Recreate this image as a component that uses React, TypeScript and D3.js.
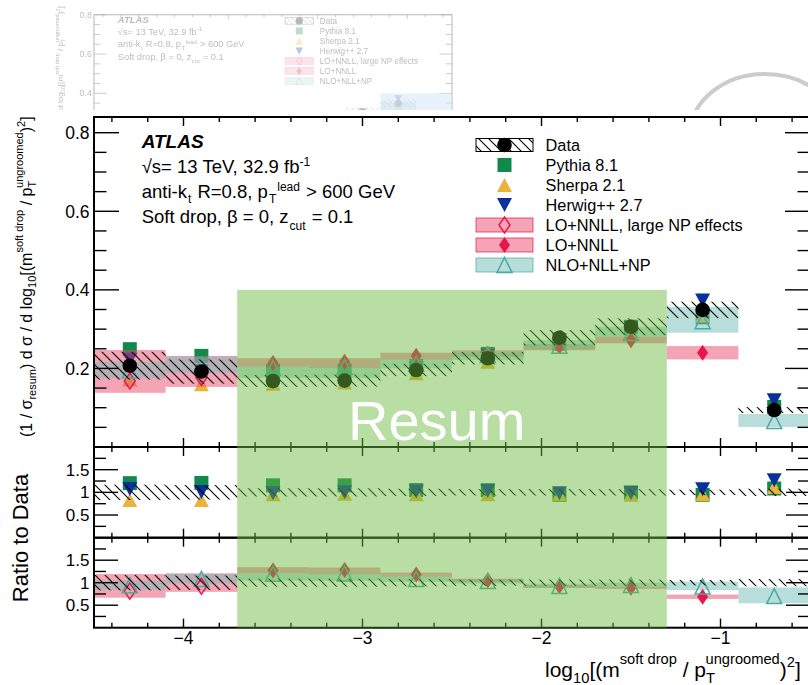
import React from 'react';
import * as d3 from 'd3';

// Bins in log10[(m^soft drop / pT^ungroomed)^2]
const binCenters = [-4.3, -3.9, -3.5, -3.1, -2.7, -2.3, -1.9, -1.5, -1.1, -0.7];
const binHalfWidth = 0.2;

// Unfolded data and its relative uncertainty
const dataValues = [0.207, 0.192, 0.168, 0.169, 0.196, 0.226, 0.278, 0.306, 0.349, 0.094];
const dataRelUnc = [0.17, 0.16, 0.09, 0.09, 0.08, 0.07, 0.07, 0.07, 0.06, 0.08];

// MC generators
const pythiaValues = [0.249, 0.232, 0.194, 0.195, 0.206, 0.237, 0.263, 0.306, 0.330, 0.102];
const sherpaValues = [0.172, 0.160, 0.161, 0.164, 0.188, 0.217, 0.267, 0.290, 0.335, 0.105];
const herwigValues = [0.222, 0.193, 0.165, 0.169, 0.200, 0.233, 0.272, 0.302, 0.373, 0.119];

// LO+NNLL with large NP effects
const loLargeNp = [0.168, 0.177, null, null, null, null, null, null, null, null];
const loLargeNpLow = [0.138, 0.153, null, null, null, null, null, null, null, null];
const loLargeNpHigh = [0.247, 0.232, null, null, null, null, null, null, null, null];

// LO+NNLL
const loNnll = [null, null, 0.214, 0.217, 0.232, 0.238, 0.256, 0.272, 0.240, null];
const loNnllLow = [null, null, 0.204, 0.201, 0.222, 0.230, 0.246, 0.264, 0.223, null];
const loNnllHigh = [null, null, 0.226, 0.226, 0.240, 0.246, 0.262, 0.281, 0.257, null];

// NLO+NLL+NP
const nloNll = [0.195, 0.208, 0.201, 0.204, 0.212, 0.234, 0.258, 0.290, 0.320, 0.066];
const nloNllLow = [0.175, 0.189, 0.176, 0.176, 0.200, 0.222, 0.250, 0.281, 0.291, 0.051];
const nloNllHigh = [0.217, 0.230, 0.204, 0.203, 0.222, 0.240, 0.272, 0.306, 0.357, 0.084];

const xMajorTicks = [-4, -3, -2, -1];
const mainYLabels = [0.2, 0.4, 0.6, 0.8];
const ratioYLabels = [0.5, 1, 1.5];

const legendLabels = [
  'Data',
  'Pythia 8.1',
  'Sherpa 2.1',
  'Herwig++ 2.7',
  'LO+NNLL, large NP effects',
  'LO+NNLL',
  'NLO+NLL+NP',
];

const resumRange = [-3.7, -1.3];
const resumTop = 0.4;
const altRange = [-1.3, -0.5];

const FONT = "'Liberation Sans', Arial, Helvetica, sans-serif";
const C = {
  pythia: '#10894b',
  sherpa: '#e8b43a',
  herwig: '#0a309e',
  loFill: 'rgba(233,73,107,0.5)',
  loLine: '#e5184e',
  nloFill: 'rgba(113,189,183,0.5)',
  nloLine: '#4aab9f',
  resum: 'rgba(106,187,63,0.48)',
  alt: 'rgba(91,163,233,0.5)',
};

const X_LEFT = 94;
const X_RIGHT = 810;
const MAIN = { top: 117, bottom: 447 };
const R1 = { top: 447, bottom: 537.7 };
const R2 = { top: 537.7, bottom: 627.7 };

const sq = (s: number) => `M${-s / 2},${-s / 2}h${s}v${s}h${-s}Z`;
const triUp = (w: number, h: number) => `M0,${-h / 2}L${w / 2},${h / 2}L${-w / 2},${h / 2}Z`;
const triDown = (w: number, h: number) => `M0,${h / 2}L${w / 2},${-h / 2}L${-w / 2},${-h / 2}Z`;
const diamond = (w: number, h: number) => `M0,${-h / 2}L${w / 2},0L0,${h / 2}L${-w / 2},0Z`;

type Shape = 'pythia' | 'sherpa' | 'herwig' | 'openDiamond' | 'diamond' | 'openTri' | 'data';

function Marker({ kind, cx, cy }: { kind: Shape; cx: number; cy: number }) {
  const t = `translate(${cx},${cy})`;
  switch (kind) {
    case 'pythia':
      return <path transform={t} d={sq(14)} fill={C.pythia} />;
    case 'sherpa':
      return <path transform={t} d={triUp(15, 14)} fill={C.sherpa} />;
    case 'herwig':
      return <path transform={t} d={triDown(15, 14)} fill={C.herwig} />;
    case 'openDiamond':
      return <path transform={t} d={diamond(11, 16)} fill="none" stroke={C.loLine} strokeWidth={1.5} />;
    case 'diamond':
      return <path transform={t} d={diamond(11, 16)} fill={C.loLine} />;
    case 'openTri':
      return <path transform={t} d={triUp(15, 15)} fill="none" stroke={C.nloLine} strokeWidth={1.5} />;
    case 'data':
      return <circle cx={cx} cy={cy} r={7.3} fill="#000" />;
  }
  return null;
}

function Axes({ top, bottom, y, minor, major, majorLen }: any) {
  const xs = d3.scaleLinear().domain([-4.5, -0.5]).range([X_LEFT, X_RIGHT]);
  const xt = d3.range(-44, -4, 2).map((v) => v / 10);
  const lines: any[] = [];
  xt.forEach((t, i) => {
    const isMajor = Math.abs(t - Math.round(t)) < 1e-6;
    const len = isMajor ? 9 : 5;
    const px = xs(t);
    lines.push(<line key={'b' + i} x1={px} x2={px} y1={bottom} y2={bottom - len} />);
    lines.push(<line key={'t' + i} x1={px} x2={px} y1={top} y2={top + len} />);
  });
  minor.forEach((v: number, i: number) => {
    const py = y(v);
    if (py < top - 0.5) return;
    const isMajor = major.some((m: number) => Math.abs(m - v) < 1e-6);
    const len = isMajor ? majorLen : majorLen / 2;
    lines.push(<line key={'l' + i} x1={X_LEFT} x2={X_LEFT + len} y1={py} y2={py} />);
    lines.push(<line key={'r' + i} x1={X_RIGHT} x2={X_RIGHT - len} y1={py} y2={py} />);
  });
  return (
    <g stroke="#000">
      <g strokeWidth={1.4}>{lines}</g>
      <rect x={X_LEFT} y={top} width={X_RIGHT - X_LEFT} height={bottom - top} fill="none" strokeWidth={2} />
    </g>
  );
}

function Figure({ variant }: { variant: 'main' | 'ghost' }) {
  const isMain = variant === 'main';
  const x = d3.scaleLinear().domain([-4.5, -0.5]).range([X_LEFT, X_RIGHT]);
  const yMain = d3.scaleLinear().domain([0, 0.84]).range([MAIN.bottom, MAIN.top]);
  const yR1 = d3.scaleLinear().domain([0, 2]).range([R1.bottom, R1.top]);
  const yR2 = d3.scaleLinear().domain([0, 2]).range([R2.bottom, R2.top]);
  // the small preview copy frames its top panel at 0.8
  const mainTop = isMain ? MAIN.top : yMain(0.8);

  const bins = binCenters.map((c) => ({ x0: x(c - binHalfWidth), x1: x(c + binHalfWidth), cx: x(c) }));

  const band = (ys: any, lo: number, hi: number, i: number, fill: string, key: string) => (
    <rect key={key + i} x={bins[i].x0} width={bins[i].x1 - bins[i].x0} y={ys(hi)} height={ys(lo) - ys(hi)} fill={fill} />
  );

  const theory = [
    { c: loLargeNp, lo: loLargeNpLow, hi: loLargeNpHigh, fill: C.loFill, m: 'openDiamond' as Shape },
    { c: loNnll, lo: loNnllLow, hi: loNnllHigh, fill: C.loFill, m: 'diamond' as Shape },
    { c: nloNll, lo: nloNllLow, hi: nloNllHigh, fill: C.nloFill, m: 'openTri' as Shape },
  ];
  const mcs = [
    { v: pythiaValues, m: 'pythia' as Shape },
    { v: sherpaValues, m: 'sherpa' as Shape },
    { v: herwigValues, m: 'herwig' as Shape },
  ];

  const mainMinor = d3.range(1, 17).map((k) => k * 0.05);
  const ratioMinor = d3.range(1, 8).map((k) => k * 0.25);

  const region = isMain ? resumRange : altRange;
  const regionFill = isMain ? C.resum : C.alt;
  const regionBottom = isMain ? R2.bottom : MAIN.bottom;

  const small = 12;
  return (
    <g fontFamily={FONT}>
      {/* ---------- main panel ---------- */}
      <g>
        {mcs.map((s) =>
          s.v.map((v, i) => <Marker key={s.m + i} kind={s.m} cx={bins[i].cx} cy={yMain(v)} />)
        )}
        {theory.map((t, k) =>
          t.c.map((v, i) => (v == null ? null : band(yMain, t.lo[i] as number, t.hi[i] as number, i, t.fill, 'mb' + k)))
        )}
        {theory.map((t) =>
          t.c.map((v, i) => (v == null ? null : <Marker key={t.m + 'm' + i} kind={t.m} cx={bins[i].cx} cy={yMain(v)} />))
        )}
        {dataValues.map((v, i) => band(yMain, v * (1 - dataRelUnc[i]), v * (1 + dataRelUnc[i]), i, 'url(#hatch)', 'dh'))}
        {dataValues.map((v, i) => <Marker key={'d' + i} kind="data" cx={bins[i].cx} cy={yMain(v)} />)}
      </g>

      {isMain && (
        <g>
          {/* ---------- ratio panel: MC / data ---------- */}
          {mcs.map((s) =>
            s.v.map((v, i) => <Marker key={s.m + 'r' + i} kind={s.m} cx={bins[i].cx} cy={yR1(v / dataValues[i])} />)
          )}
          {dataValues.map((v, i) => band(yR1, 1 - dataRelUnc[i], 1 + dataRelUnc[i], i, 'url(#hatch)', 'h1'))}

          {/* ---------- ratio panel: theory / data ---------- */}
          {theory.map((t, k) =>
            t.c.map((v, i) =>
              v == null
                ? null
                : band(yR2, (t.lo[i] as number) / dataValues[i], (t.hi[i] as number) / dataValues[i], i, t.fill, 'rb' + k)
            )
          )}
          {theory.map((t) =>
            t.c.map((v, i) =>
              v == null ? null : <Marker key={t.m + 'r2' + i} kind={t.m} cx={bins[i].cx} cy={yR2((v as number) / dataValues[i])} />
            )
          )}
          {dataValues.map((v, i) => band(yR2, 1 - dataRelUnc[i], 1 + dataRelUnc[i], i, 'url(#hatch)', 'h2'))}
        </g>
      )}

      <Axes top={mainTop} bottom={MAIN.bottom} y={yMain} minor={mainMinor} major={mainYLabels} majorLen={25} />
      {isMain && (
        <g>
          <Axes top={R1.top} bottom={R1.bottom} y={yR1} minor={ratioMinor} major={ratioYLabels} majorLen={24} />
          <Axes top={R2.top} bottom={R2.bottom} y={yR2} minor={ratioMinor} major={ratioYLabels} majorLen={24} />
        </g>
      )}

      {/* highlighted region */}
      <rect
        x={x(region[0])}
        y={yMain(resumTop)}
        width={x(region[1]) - x(region[0])}
        height={regionBottom - yMain(resumTop)}
        fill={regionFill}
      />
      {isMain && (
        <text x={348} y={440} fontSize={56} fill="#fff">
          Resum
        </text>
      )}

      {/* tick labels */}
      <g fontSize={17.5} textAnchor="end">
        {mainYLabels
          .filter((v) => isMain || v > 0.3)
          .map((v) => (
            <text key={'ym' + v} x={89.5} y={yMain(v) + 6.3}>
              {d3.format('.1f')(v)}
            </text>
          ))}
      </g>
      {isMain && (
        <g>
          <g fontSize={17} textAnchor="end">
            {ratioYLabels.map((v) => (
              <text key={'y1' + v} x={89.5} y={yR1(v) + 6}>
                {d3.format('~g')(v)}
              </text>
            ))}
            {ratioYLabels.map((v) => (
              <text key={'y2' + v} x={89.5} y={yR2(v) + 6}>
                {d3.format('~g')(v)}
              </text>
            ))}
          </g>
          <g fontSize={17.5} textAnchor="middle">
            {xMajorTicks.map((v) => (
              <text key={'x' + v} x={x(v)} y={643.5}>
                {'\u2212' + Math.abs(v)}
              </text>
            ))}
          </g>
          <text x={545} y={676.5} fontSize={21}>
            log<tspan fontSize={14.7} dy={6}>10</tspan>
            <tspan dy={-6}>[(m</tspan>
            <tspan fontSize={14.7} dy={-13}>soft drop</tspan>
            <tspan dy={13}> / p</tspan>
            <tspan fontSize={14.7} dy={6}>T</tspan>
            <tspan fontSize={14.7} dx={-9} dy={-19}>ungroomed</tspan>
            <tspan dy={13}>)</tspan>
            <tspan fontSize={14.7} dy={-10}>2</tspan>
            <tspan dy={10}>]</tspan>
          </text>
          <text transform="translate(28,538) rotate(-90)" fontSize={22} textAnchor="middle">
            Ratio to Data
          </text>
        </g>
      )}

      {/* y title of the top panel */}
      <text transform="translate(32,437) rotate(-90)" fontSize={16}>
        (1 / σ<tspan fontSize={11} dy={4}>resum</tspan>
        <tspan dy={-4}>) d σ / d log</tspan>
        <tspan fontSize={11} dy={4}>10</tspan>
        <tspan dy={-4}>[(m</tspan>
        <tspan fontSize={11} dy={-9}>soft drop</tspan>
        <tspan dy={9}> / p</tspan>
        <tspan fontSize={11} dy={4}>T</tspan>
        <tspan fontSize={11} dx={-6.7} dy={-13}>ungroomed</tspan>
        <tspan dy={9}>)</tspan>
        <tspan fontSize={11} dy={-7}>2</tspan>
        <tspan dy={7}>]</tspan>
      </text>

      {/* labels */}
      <g fontSize={18.5}>
        <text x={141.7} y={148.3} fontWeight="bold" fontStyle="italic" fontSize={19}>
          ATLAS
        </text>
        <text x={141.7} y={173}>
          √s= 13 TeV, 32.9 fb<tspan fontSize={small} dy={-7}>-1</tspan>
        </text>
        <text x={141.7} y={198}>
          anti-k<tspan fontSize={small} dx={1} dy={4.5}>t</tspan>
          <tspan dx={1} dy={-4.5}> R=0.8, p</tspan>
          <tspan fontSize={small} dx={1} dy={4.5}>T</tspan>
          <tspan fontSize={small} dx={1} dy={-12}>lead</tspan>
          <tspan dx={1} dy={7.5}> &gt; 600 GeV</tspan>
        </text>
        <text x={141.7} y={223}>
          Soft drop, β = 0, z<tspan fontSize={small} dx={1} dy={7}>cut</tspan>
          <tspan dx={1} dy={-7}> = 0.1</tspan>
        </text>
      </g>

      {/* legend */}
      <g fontSize={16.3}>
        {legendLabels.map((lab, i) => {
          const cy = 145 + i * 20;
          const bx = 476;
          const bw = 57;
          const mx = 504.5;
          let sym: any = null;
          if (i === 0) {
            sym = (
              <g>
                <rect x={bx} y={cy - 6.5} width={bw} height={13} fill="url(#hatch)" stroke="#000" strokeWidth={1} />
                <Marker kind="data" cx={mx} cy={cy} />
              </g>
            );
          } else if (i === 1) sym = <Marker kind="pythia" cx={mx} cy={cy} />;
          else if (i === 2) sym = <Marker kind="sherpa" cx={mx} cy={cy} />;
          else if (i === 3) sym = <Marker kind="herwig" cx={mx} cy={cy} />;
          else {
            const isNlo = i === 6;
            sym = (
              <g>
                <rect
                  x={bx}
                  y={cy - 7}
                  width={bw}
                  height={14}
                  fill={isNlo ? C.nloFill : C.loFill}
                  stroke={isNlo ? C.nloLine : C.loLine}
                  strokeOpacity={0.7}
                  strokeWidth={1}
                />
                <Marker kind={i === 4 ? 'openDiamond' : i === 5 ? 'diamond' : 'openTri'} cx={mx} cy={cy} />
              </g>
            );
          }
          return (
            <g key={lab}>
              {sym}
              <text x={545.6} y={cy + 6}>
                {lab}
              </text>
            </g>
          );
        })}
      </g>
    </g>
  );
}

export default function App() {
  return (
    <svg
      width={808}
      height={685}
      viewBox="0 0 808 685"
      style={{ position: 'absolute', left: 0, top: 0, background: '#fff' }}
    >
      <defs>
        <pattern id="hatch" patternUnits="userSpaceOnUse" width={10} height={10}>
          <path d="M0,0L10,10M-1,9L1,11M9,-1L11,1" stroke="#000" strokeWidth={1.1} fill="none" />
        </pattern>
        <clipPath id="topClip">
          <rect x={0} y={0} width={808} height={110} />
        </clipPath>
      </defs>
      <rect x={0} y={0} width={808} height={685} fill="#fff" />
      <g clipPath="url(#topClip)">
        <g opacity={0.28}>
          <g transform="translate(47,-51.6) scale(0.5)">
            <Figure variant="ghost" />
          </g>
        </g>
        <ellipse cx={765} cy={135} rx={75} ry={61} fill="none" stroke="#cccccc" strokeWidth={4} />
      </g>
      <rect x={0} y={110} width={808} height={575} fill="#fff" />
      <Figure variant="main" />
    </svg>
  );
}
